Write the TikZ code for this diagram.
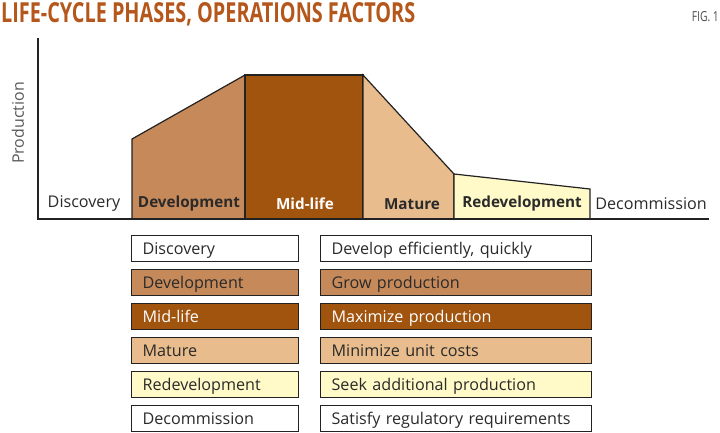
\documentclass[tikz,border=0pt]{standalone}
\usepackage{fontspec}
\setmainfont{Open Sans}
\definecolor{devc}{HTML}{C6895A}
\definecolor{midc}{HTML}{A0540E}
\definecolor{matc}{HTML}{E8BC8C}
\definecolor{redc}{HTML}{FFFAC8}
\definecolor{titc}{HTML}{B5561A}
\definecolor{txtc}{HTML}{2A2A2A}
\definecolor{linec}{HTML}{222222}
\begin{document}
\begin{tikzpicture}[x=1bp,y=-1bp,
  phase/.style={font=\fontsize{15.3}{17}\selectfont\bfseries, text=txtc, inner sep=0pt, anchor=center},
  phaselight/.style={font=\fontsize{16.2}{18}\selectfont, text=txtc, inner sep=0pt, anchor=center},
  shapeline/.style={draw=linec, line width=1.2bp, line join=miter},
  lbox/.style={draw=linec, line width=1.2bp, minimum height=26bp, text width=145bp, align=left, inner xsep=11bp, inner ysep=0pt, anchor=north west, font=\fontsize{16.2}{18}\selectfont, text=txtc, text depth=0pt},
  rbox/.style={lbox, text width=249bp}
]
\useasboundingbox (0,0) rectangle (720,432);
% title
\node[anchor=base west, inner sep=0pt, text=titc] (title) at (1,22)
  {\resizebox{414bp}{20bp}{\bfseries LIFE-CYCLE PHASES, OPERATIONS FACTORS}};
\node[anchor=base east, inner sep=0pt, text=black!70] (fig) at (719,21)
  {\resizebox{27bp}{10bp}{FIG. 1}};
% areas
\path[fill=devc, shapeline] (132,219) -- (132,139) -- (245,75) -- (245,219);
\path[fill=midc, shapeline] (245,219) -- (245,75) -- (363,75) -- (363,219);
\path[fill=matc, shapeline] (363,219) -- (363,75) -- (454,174) -- (454,219);
\path[fill=redc, shapeline] (454,219) -- (454,174) -- (590,189) -- (590,219);
% axes
\coordinate (top) at (38,38);
\coordinate (orig) at (38,219);
\coordinate (xend) at (709,219);
\draw[linec, line width=1.5bp] (top) -- (orig) -- (xend);
\node[rotate=90, font=\fontsize{16}{18}\selectfont, text=black!65, inner sep=0pt] (prod) at (18,123) {Production};
% phase labels
\node[phaselight] (pdisc) at (84,204) {Discovery};
\node[phase] (pdev) at (189,204) {Development};
\node[phase, text=white] (pmid) at (305,204) {Mid-life};
\node[phase] (pmat) at (412,204) {Mature};
\node[phase] (pred) at (522,204) {Redevelopment};
\node[phaselight] (pdec) at (651,204) {Decommission};
% table
\node[lbox, fill=white] (l1) at (131,235) {Discovery};
\node[lbox, fill=devc] (l2) at (131,269) {Development};
\node[lbox, fill=midc, text=white] (l3) at (131,303) {Mid-life};
\node[lbox, fill=matc] (l4) at (131,337) {Mature};
\node[lbox, fill=redc] (l5) at (131,371) {Redevelopment};
\node[lbox, fill=white] (l6) at (131,405) {Decommission};
\node[rbox, fill=white] (r1) at (320,235) {Develop efficiently, quickly};
\node[rbox, fill=devc] (r2) at (320,269) {Grow production};
\node[rbox, fill=midc, text=white] (r3) at (320,303) {Maximize production};
\node[rbox, fill=matc] (r4) at (320,337) {Minimize unit costs};
\node[rbox, fill=redc] (r5) at (320,371) {Seek additional production};
\node[rbox, fill=white] (r6) at (320,405) {Satisfy regulatory requirements};
\end{tikzpicture}
\end{document}
